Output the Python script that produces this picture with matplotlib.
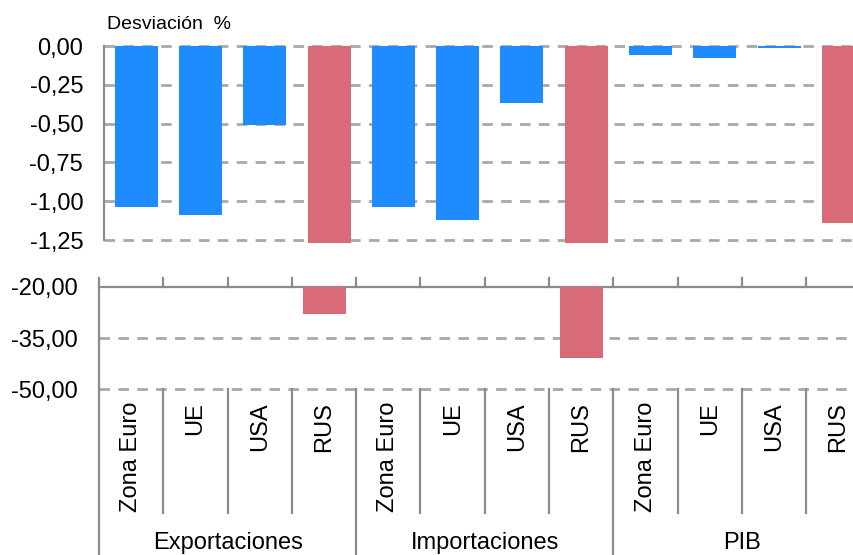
import numpy as np
import matplotlib
matplotlib.use("Agg")
import matplotlib.pyplot as plt

plt.rcParams['font.family'] = ['Liberation Sans', 'DejaVu Sans']

# datos
grupos = ["Exportaciones", "Importaciones", "PIB"]
paises = ["Zona Euro", "UE", "USA", "RUS"]
exportaciones = [-1.04, -1.09, -0.51, -28.1]
importaciones = [-1.04, -1.12, -0.37, -40.8]
pib = [-0.06, -0.08, -0.01, -1.14]

ticks_sup = [0, -0.25, -0.5, -0.75, -1.0, -1.25]
labels_sup = ["0,00", "-0,25", "-0,50", "-0,75", "-1,00", "-1,25"]
ticks_inf = [-20, -35, -50]
labels_inf = ["-20,00", "-35,00", "-50,00"]

azul = "#1E8CFF"
rojo = "#D96B78"
gris = "#8C8C8C"
grid_gris = "#A8A8A8"
dash = (0, (3.8, 3.0))

valores = np.array(exportaciones + importaciones + pib)
colores = [rojo if p == "RUS" else azul for _ in grupos for p in paises]
x = np.arange(len(valores))

W, H = 854, 555
fig = plt.figure(figsize=(W / 100, H / 100), dpi=100)

slot = 64.3
ancho = slot * len(valores)

# panel superior (escala pequena)
ax1 = fig.add_axes([104 / W, 1 - 240 / H, ancho / W, 194 / H])
# panel inferior (escala grande)
ax2 = fig.add_axes([99 / W, 1 - 389.3 / H, ancho / W, 102.6 / H])

# barras superiores recortadas justo por debajo de -1,25
sup = np.maximum(valores, -1.27)
ax1.bar(x, sup, width=0.67, color=colores, zorder=3, clip_on=False)
ax1.set_xlim(-0.5, len(valores) - 0.5)
ax1.set_ylim(-1.25, 0)
ax1.set_yticks(ticks_sup)
ax1.set_yticklabels(labels_sup)
ax1.set_xticks([])
for t in ticks_sup:
    ax1.axhline(t, color=grid_gris, lw=2, ls=dash, zorder=1, clip_on=False)
for s in ["top", "right", "bottom"]:
    ax1.spines[s].set_visible(False)
ax1.spines["left"].set_color(gris)
ax1.spines["left"].set_linewidth(1.6)
ax1.tick_params(axis="y", length=0, pad=15, labelsize=17)
ax1.text(107 / W, 1 - 29 / H, "Desviación  %", transform=fig.transFigure,
         fontsize=14, ha="left", va="baseline")

# panel inferior
ax2.bar(x, valores, width=0.67, color=colores, zorder=3)
ax2.set_xlim(-0.5, len(valores) - 0.5)
ax2.set_ylim(-50, -20)
ax2.set_yticks(ticks_inf)
ax2.set_yticklabels(labels_inf)
ax2.set_xticks([])
for t in ticks_inf[1:]:
    ax2.axhline(t, color=grid_gris, lw=2, ls=dash, zorder=1, clip_on=False)
for s in ["right", "bottom", "left"]:
    ax2.spines[s].set_visible(False)
ax2.spines["top"].set_color(gris)
ax2.spines["top"].set_linewidth(1.6)
ax2.tick_params(axis="y", length=0, pad=15, labelsize=17)

tr = ax2.get_xaxis_transform()
# eje izquierdo largo
ax2.plot([-0.5, -0.5], [1.08, -1.7], color=gris, lw=1.6, transform=tr, clip_on=False)
for k in range(1, len(valores) + 1):
    b = k - 0.5
    ax2.plot([b, b], [1.0, 1.08], color=gris, lw=1.6, transform=tr, clip_on=False)
    fondo = -1.7 if k % 4 == 0 else -1.206
    ax2.plot([b, b], [0.0, fondo], color=gris, lw=1.6, transform=tr, clip_on=False)

# etiquetas de categorias
y_cat = (389.3 - 402) / 102.6
for i in x:
    ax2.text(i, y_cat, paises[i % 4], rotation=90, ha="center", va="top",
             fontsize=17, transform=tr)
y_grp = (389.3 - 532) / 102.6
for g, nombre in enumerate(grupos):
    ax2.text(g * 4 + 1.5, y_grp, nombre, ha="center", va="top",
             fontsize=17, transform=tr)

fig.savefig("out.png", dpi=100)
